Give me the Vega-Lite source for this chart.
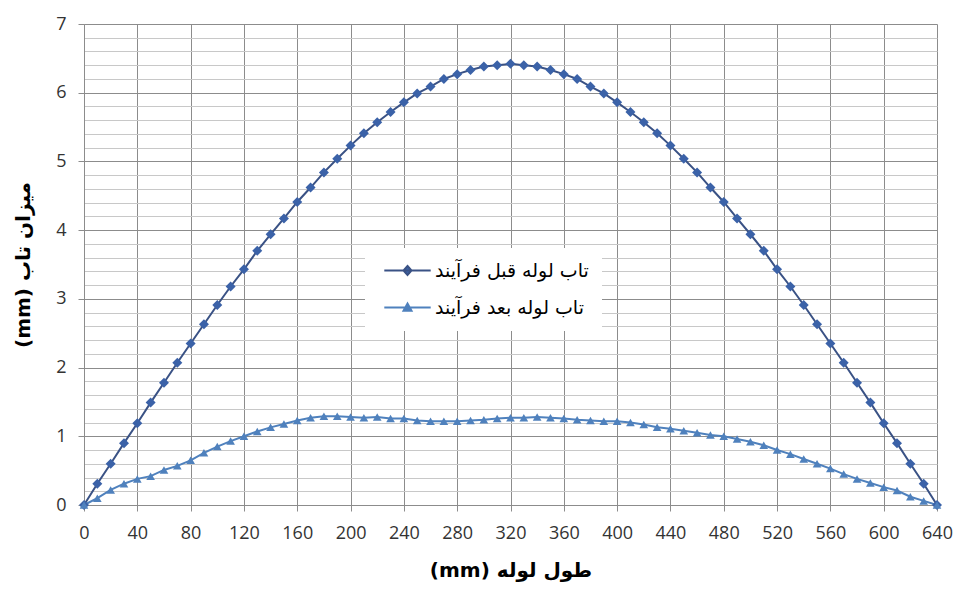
{
  "$schema": "https://vega.github.io/schema/vega-lite/v6.json",
  "width": 853,
  "height": 481,
  "autosize": "none",
  "padding": {"left": 84, "top": 24, "right": 16, "bottom": 87},
  "background": "white",
  "config": {"view": {"stroke": null}},
  "data": {"values": [
    {"x": 0, "a": 0, "b": 0},
    {"x": 10, "a": 0.31, "b": 0.1},
    {"x": 20, "a": 0.6, "b": 0.22},
    {"x": 30, "a": 0.9, "b": 0.31},
    {"x": 40, "a": 1.19, "b": 0.38},
    {"x": 50, "a": 1.49, "b": 0.42},
    {"x": 60, "a": 1.78, "b": 0.51},
    {"x": 70, "a": 2.07, "b": 0.57},
    {"x": 80, "a": 2.35, "b": 0.65},
    {"x": 90, "a": 2.63, "b": 0.76},
    {"x": 100, "a": 2.91, "b": 0.85},
    {"x": 110, "a": 3.18, "b": 0.93},
    {"x": 120, "a": 3.43, "b": 1.0},
    {"x": 130, "a": 3.7, "b": 1.07},
    {"x": 140, "a": 3.94, "b": 1.13},
    {"x": 150, "a": 4.17, "b": 1.18},
    {"x": 160, "a": 4.41, "b": 1.23},
    {"x": 170, "a": 4.62, "b": 1.27},
    {"x": 180, "a": 4.84, "b": 1.29},
    {"x": 190, "a": 5.04, "b": 1.29},
    {"x": 200, "a": 5.23, "b": 1.28},
    {"x": 210, "a": 5.41, "b": 1.27},
    {"x": 220, "a": 5.57, "b": 1.28},
    {"x": 230, "a": 5.72, "b": 1.26},
    {"x": 240, "a": 5.86, "b": 1.26},
    {"x": 250, "a": 5.99, "b": 1.23},
    {"x": 260, "a": 6.09, "b": 1.22},
    {"x": 270, "a": 6.2, "b": 1.22},
    {"x": 280, "a": 6.27, "b": 1.22},
    {"x": 290, "a": 6.33, "b": 1.23},
    {"x": 300, "a": 6.38, "b": 1.24},
    {"x": 310, "a": 6.4, "b": 1.26},
    {"x": 320, "a": 6.42, "b": 1.27},
    {"x": 330, "a": 6.4, "b": 1.27},
    {"x": 340, "a": 6.38, "b": 1.28},
    {"x": 350, "a": 6.33, "b": 1.27},
    {"x": 360, "a": 6.27, "b": 1.26},
    {"x": 370, "a": 6.2, "b": 1.24},
    {"x": 380, "a": 6.09, "b": 1.23},
    {"x": 390, "a": 5.99, "b": 1.22},
    {"x": 400, "a": 5.86, "b": 1.22},
    {"x": 410, "a": 5.72, "b": 1.2},
    {"x": 420, "a": 5.57, "b": 1.17},
    {"x": 430, "a": 5.41, "b": 1.13},
    {"x": 440, "a": 5.23, "b": 1.11},
    {"x": 450, "a": 5.04, "b": 1.08},
    {"x": 460, "a": 4.84, "b": 1.05},
    {"x": 470, "a": 4.62, "b": 1.02},
    {"x": 480, "a": 4.41, "b": 1.0},
    {"x": 490, "a": 4.17, "b": 0.96},
    {"x": 500, "a": 3.94, "b": 0.92},
    {"x": 510, "a": 3.7, "b": 0.87},
    {"x": 520, "a": 3.43, "b": 0.8},
    {"x": 530, "a": 3.18, "b": 0.74},
    {"x": 540, "a": 2.91, "b": 0.67},
    {"x": 550, "a": 2.63, "b": 0.6},
    {"x": 560, "a": 2.35, "b": 0.53},
    {"x": 570, "a": 2.07, "b": 0.45},
    {"x": 580, "a": 1.78, "b": 0.38},
    {"x": 590, "a": 1.49, "b": 0.32},
    {"x": 600, "a": 1.19, "b": 0.26},
    {"x": 610, "a": 0.9, "b": 0.21},
    {"x": 620, "a": 0.6, "b": 0.12},
    {"x": 630, "a": 0.31, "b": 0.06},
    {"x": 640, "a": 0, "b": 0}
  ]},
  "transform": [{"fold": ["a", "b"], "as": ["series", "y"]}],
  "encoding": {
    "x": {
      "field": "x", "type": "quantitative",
      "scale": {"domain": [0, 640], "nice": false, "zero": false},
      "axis": {
        "values": [0, 40, 80, 120, 160, 200, 240, 280, 320, 360, 400, 440, 480, 520, 560, 600, 640],
        "format": "d",
        "grid": true, "gridColor": "#8c8c8c", "gridWidth": 1,
        "domainColor": "#8c8c8c", "tickColor": "#8c8c8c", "tickSize": 6,
        "labelFont": "Open Sans", "labelFontSize": 18, "labelColor": "#333333", "labelPadding": 13,
        "labelFlush": false, "labelOverlap": false,
        "title": "(mm) طول لوله", "titleFont": "DejaVu Sans", "titleFontSize": 20,
        "titleFontWeight": "bold", "titleColor": "#000000", "titlePadding": 18
      }
    },
    "y": {
      "field": "y", "type": "quantitative",
      "scale": {"domain": [0, 7], "nice": false},
      "axis": {
        "values": [0, 0.2, 0.4, 0.6, 0.8, 1, 1.2, 1.4, 1.6, 1.8, 2, 2.2, 2.4, 2.6, 2.8, 3, 3.2, 3.4, 3.6, 3.8, 4, 4.2, 4.4, 4.6, 4.8, 5, 5.2, 5.4, 5.6, 5.8, 6, 6.2, 6.4, 6.6, 6.8, 7],
        "grid": true,
        "gridColor": {"condition": {"test": "abs(datum.value - round(datum.value)) < 0.001", "value": "#8c8c8c"}, "value": "#c8c8c8"},
        "tickOpacity": {"condition": {"test": "abs(datum.value - round(datum.value)) < 0.001", "value": 1}, "value": 0},
        "labelExpr": "abs(datum.value - round(datum.value)) < 0.001 ? format(datum.value, 'd') : ''",
        "domainColor": "#8c8c8c", "tickColor": "#8c8c8c", "tickSize": 6,
        "labelFont": "Open Sans", "labelFontSize": 18, "labelColor": "#333333", "labelPadding": 12,
        "labelFlush": false, "labelOverlap": false,
        "title": "(mm) میزان تاب", "titleFont": "DejaVu Sans", "titleFontSize": 20,
        "titleFontWeight": "bold", "titleColor": "#000000", "titlePadding": 22
      }
    },
    "color": {
      "field": "series", "type": "nominal",
      "scale": {"domain": ["a", "b"], "range": ["#3A5285", "#4F81BD"]},
      "legend": {
        "orient": "none", "legendX": 281, "legendY": 224,
        "title": null, "fillColor": "white", "padding": 13,
        "symbolSize": 256, "symbolOffset": 20, "labelOffset": 18, "rowPadding": 17,
        "labelFont": "DejaVu Sans", "labelFontSize": 19, "labelColor": "#000000",
        "labelExpr": "datum.value === 'a' ? 'تاب لوله قبل فرآیند' : 'تاب لوله بعد فرآیند'",
        "encode": {
          "symbols": {
            "update": {
              "shape": {"signal": "datum.value === 'a' ? 'M-2.9,0L2.9,0M0,-0.56L0.5,0L0,0.56L-0.5,0Z' : 'M-2.9,0L2.9,0M0,-0.5L0.5,0.4L-0.5,0.4Z'"},
              "fill": {"signal": "datum.value === 'a' ? '#3B62A8' : '#4F81BD'"},
              "stroke": {"signal": "datum.value === 'a' ? '#3A5285' : '#4F81BD'"},
              "strokeWidth": {"value": 2},
              "opacity": {"value": 1},
              "fillOpacity": {"value": 1},
              "strokeOpacity": {"value": 1}
            }
          }
        }
      }
    }
  },
  "layer": [
    {"mark": {"type": "line", "strokeWidth": 2}},
    {
      "transform": [{"filter": "datum.series === 'a'"}],
      "mark": {"type": "point", "shape": "diamond", "filled": true, "size": 100, "opacity": 1},
      "encoding": {"color": {"value": "#3B62A8"}}
    },
    {
      "transform": [{"filter": "datum.series === 'b'"}],
      "mark": {"type": "point", "shape": "triangle-up", "filled": true, "size": 75, "opacity": 1},
      "encoding": {"color": {"value": "#4F81BD"}}
    }
  ]
}
